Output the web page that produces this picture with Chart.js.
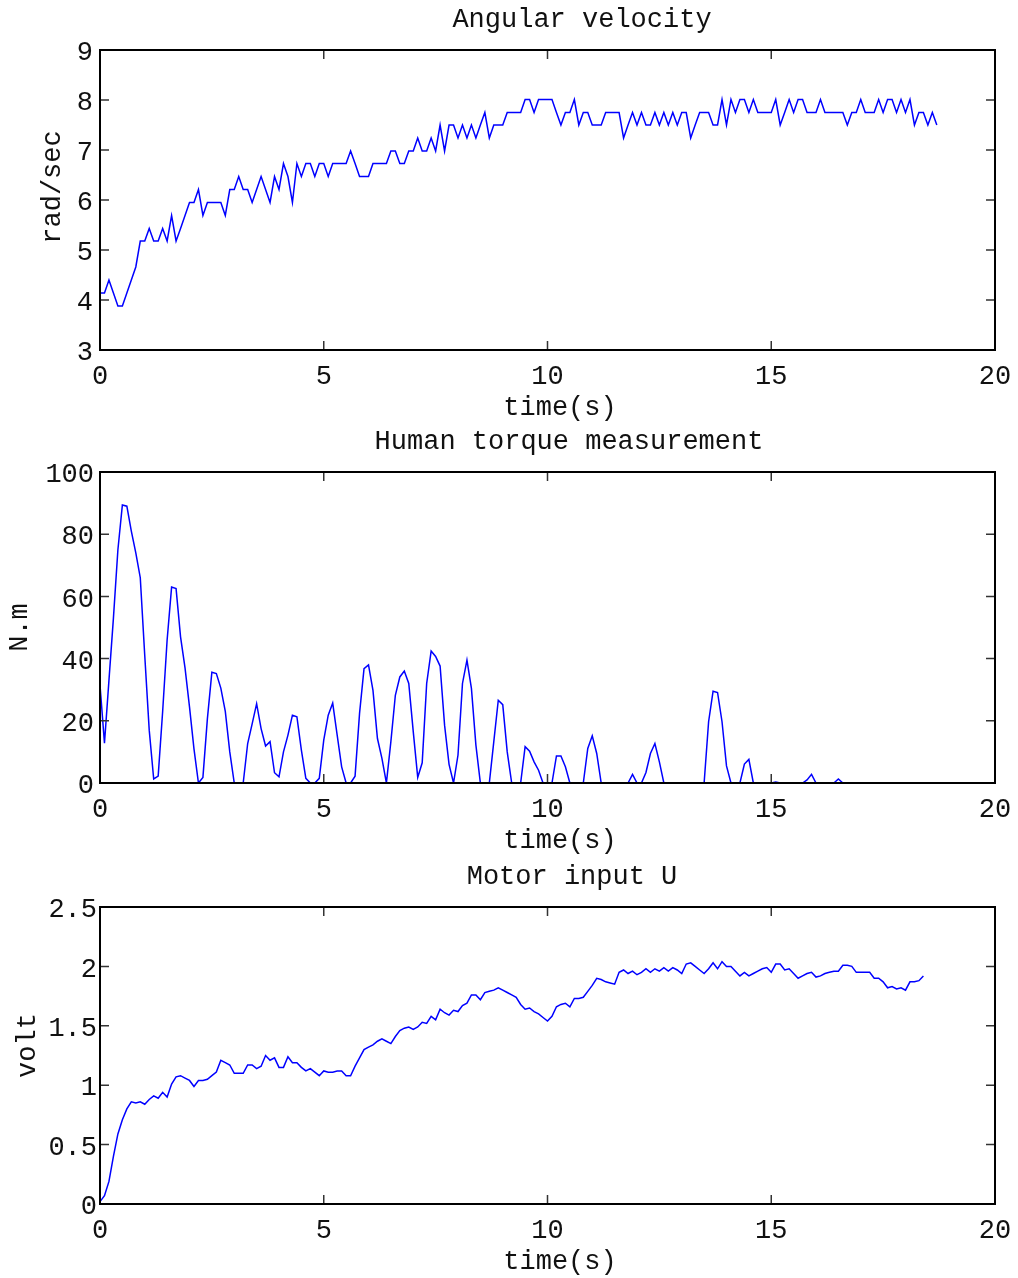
<!DOCTYPE html>
<html>
<head>
<meta charset="utf-8">
<script src="https://cdn.jsdelivr.net/npm/chart.js@4"></script>
<style>
  body { margin: 0; background: #fff; }
  canvas { position: absolute; left: 0; }
</style>
</head>
<body>
<canvas id="velChart" width="1018" height="426" style="top:0px"></canvas>
<canvas id="torqueChart" width="1018" height="432" style="top:426px"></canvas>
<canvas id="motorChart" width="1018" height="420" style="top:858px"></canvas>
<script>
// sampled every 0.1 s
const sampleStep = 0.1;

const angularVelocity = [
  4.14, 4.14, 4.40, 4.14, 3.88, 3.88, 4.14, 4.40, 4.66, 5.18,
  5.18, 5.43, 5.18, 5.18, 5.43, 5.18, 5.69, 5.18, 5.43, 5.69,
  5.95, 5.95, 6.21, 5.69, 5.95, 5.95, 5.95, 5.95, 5.69, 6.21,
  6.21, 6.47, 6.21, 6.21, 5.95, 6.21, 6.47, 6.21, 5.95, 6.47,
  6.21, 6.73, 6.47, 5.95, 6.73, 6.47, 6.73, 6.73, 6.47, 6.73,
  6.73, 6.47, 6.73, 6.73, 6.73, 6.73, 6.98, 6.73, 6.47, 6.47,
  6.47, 6.73, 6.73, 6.73, 6.73, 6.98, 6.98, 6.73, 6.73, 6.98,
  6.98, 7.24, 6.98, 6.98, 7.24, 6.98, 7.50, 6.98, 7.50, 7.50,
  7.24, 7.50, 7.24, 7.50, 7.24, 7.50, 7.75, 7.24, 7.50, 7.50,
  7.50, 7.75, 7.75, 7.75, 7.75, 8.01, 8.01, 7.75, 8.01, 8.01,
  8.01, 8.01, 7.75, 7.50, 7.75, 7.75, 8.01, 7.50, 7.75, 7.75,
  7.50, 7.50, 7.50, 7.75, 7.75, 7.75, 7.75, 7.24, 7.50, 7.75,
  7.50, 7.75, 7.50, 7.50, 7.75, 7.50, 7.75, 7.50, 7.75, 7.50,
  7.75, 7.75, 7.24, 7.50, 7.75, 7.75, 7.75, 7.50, 7.50, 8.01,
  7.50, 8.01, 7.75, 8.01, 8.01, 7.75, 8.01, 7.75, 7.75, 7.75,
  7.75, 8.01, 7.50, 7.75, 8.01, 7.75, 8.01, 8.01, 7.75, 7.75,
  7.75, 8.01, 7.75, 7.75, 7.75, 7.75, 7.75, 7.50, 7.75, 7.75,
  8.01, 7.75, 7.75, 7.75, 8.01, 7.75, 8.01, 8.01, 7.75, 8.01,
  7.75, 8.01, 7.50, 7.75, 7.75, 7.50, 7.75, 7.50
];

const humanTorque = [
  31.5, 12.8, 33, 53, 75, 89.4, 89, 81, 74, 66,
  41, 17, 1.3, 2.2, 23, 46, 63, 62.5, 47, 37,
  24.5, 11, 0, 1.8, 20.7, 35.6, 35.2, 30.5, 23, 10,
  0, 0, 0, 12.7, 19, 25.5, 17.5, 11.9, 13.3, 3.3,
  2, 10, 15.4, 21.8, 21.3, 10.6, 1.5, 0, 0, 1.5,
  13.8, 21.8, 25.7, 15.4, 5.2, 0, 0, 2.2, 22.4, 36.8,
  38, 29.8, 14.3, 7.9, 0, 13.3, 28.2, 34.1, 36, 32,
  16.5, 1.8, 6.5, 32, 42.4, 40.7, 37.6, 18.6, 6, 0,
  9, 32, 39.5, 30.4, 12.2, 0, 0, 0, 13.3, 26.6,
  25.2, 10, 0, 0, 0, 11.7, 10.2, 6.8, 4.1, 0,
  0, 0, 8.7, 8.7, 5.2, 0, 0, 0, 0, 11.1,
  15.2, 9.5, 0, 0, 0, 0, 0, 0, 0, 2.8,
  0, 0, 3.4, 9.5, 12.7, 6.8, 0, 0, 0, 0,
  0, 0, 0, 0, 0, 0, 19.7, 29.5, 29.1, 19.7,
  5.5, 0, 0, 0, 6.1, 7.6, 0, 0, 0, 0,
  0, 0.3, 0, 0, 0, 0, 0, 0, 1, 2.8,
  0, 0, 0, 0, 0, 1.3, 0, 0, 0, 0,
  0, 0, 0, 0, 0, 0, 0, 0, 0, 0,
  0, 0, 0, 0, 0
];

const motorInput = [
  0.02, 0.07, 0.19, 0.40, 0.59, 0.71, 0.80, 0.86, 0.85, 0.86,
  0.84, 0.88, 0.91, 0.89, 0.94, 0.90, 1.01, 1.07, 1.08, 1.06,
  1.04, 0.99, 1.04, 1.04, 1.05, 1.08, 1.11, 1.21, 1.19, 1.17,
  1.10, 1.10, 1.10, 1.17, 1.17, 1.14, 1.16, 1.25, 1.21, 1.23,
  1.15, 1.15, 1.24, 1.19, 1.19, 1.15, 1.12, 1.14, 1.11, 1.08,
  1.12, 1.11, 1.11, 1.12, 1.12, 1.08, 1.08, 1.16, 1.23, 1.30,
  1.32, 1.34, 1.37, 1.39, 1.37, 1.35, 1.41, 1.46, 1.48, 1.49,
  1.47, 1.49, 1.53, 1.52, 1.58, 1.55, 1.64, 1.61, 1.59, 1.63,
  1.62, 1.67, 1.69, 1.76, 1.76, 1.72, 1.78, 1.79, 1.80, 1.82,
  1.80, 1.78, 1.76, 1.74, 1.68, 1.64, 1.65, 1.62, 1.60, 1.57,
  1.54, 1.58, 1.66, 1.68, 1.69, 1.66, 1.73, 1.73, 1.74, 1.79,
  1.84, 1.90, 1.89, 1.87, 1.86, 1.85, 1.95, 1.97, 1.94, 1.96,
  1.93, 1.95, 1.98, 1.95, 1.98, 1.96, 1.99, 1.96, 1.99, 1.97,
  1.94, 2.02, 2.03, 2.00, 1.97, 1.94, 1.98, 2.03, 1.98, 2.04,
  2.00, 2.00, 1.96, 1.92, 1.95, 1.92, 1.94, 1.96, 1.98, 1.99,
  1.95, 2.02, 2.02, 1.97, 1.98, 1.94, 1.90, 1.92, 1.94, 1.95,
  1.91, 1.92, 1.94, 1.95, 1.96, 1.96, 2.01, 2.01, 2.00, 1.95,
  1.95, 1.95, 1.95, 1.90, 1.90, 1.87, 1.82, 1.83, 1.81, 1.82,
  1.80, 1.87, 1.87, 1.88, 1.92
];

const titles = ['Angular velocity', 'Human torque measurement', 'Motor input U'];
const yLabels = ['rad/sec', 'N.m', 'volt'];
const xLabel = 'time(s)';

const monoFont = "'Liberation Mono', 'Courier New', monospace";
const fontSize = 27;
Chart.defaults.font.family = monoFont;
Chart.defaults.font.size = fontSize;
Chart.defaults.color = '#111';

// MATLAB-like box with inward tick marks on all four sides
const boxPlugin = {
  id: 'box',
  afterDatasetsDraw(chart) {
    const { ctx, chartArea: a, scales: { x, y } } = chart;
    ctx.save();
    ctx.strokeStyle = '#333';
    ctx.lineWidth = 1.5;
    ctx.beginPath();
    x.ticks.forEach(t => {
      const px = x.getPixelForValue(t.value);
      ctx.moveTo(px, a.bottom); ctx.lineTo(px, a.bottom - 9);
      ctx.moveTo(px, a.top); ctx.lineTo(px, a.top + 9);
    });
    y.ticks.forEach(t => {
      const py = y.getPixelForValue(t.value);
      ctx.moveTo(a.left, py); ctx.lineTo(a.left + 9, py);
      ctx.moveTo(a.right, py); ctx.lineTo(a.right - 9, py);
    });
    ctx.stroke();
    ctx.strokeStyle = '#000';
    ctx.lineWidth = 2;
    ctx.strokeRect(a.left, a.top, a.right - a.left, a.bottom - a.top);
    ctx.restore();
  }
};

// title, x label and y label placed the way the MATLAB figure has them
const labelPlugin = {
  id: 'labels',
  afterDraw(chart, args, o) {
    const { ctx, chartArea: a } = chart;
    ctx.save();
    ctx.font = `${fontSize}px ${monoFont}`;
    ctx.fillStyle = '#111';
    ctx.textAlign = 'center';
    ctx.textBaseline = 'middle';
    ctx.fillText(o.title, o.titleX, a.top - 30);
    ctx.fillText(xLabel, 560, a.bottom + 58);
    ctx.translate(o.yLabelX, (a.top + a.bottom) / 2 - o.yLabelShift);
    ctx.rotate(-Math.PI / 2);
    ctx.fillText(o.yLabel, 0, 0);
    ctx.restore();
  }
};

function makeChart(id, cfg) {
  const times = cfg.values.map((_, i) => +(i * sampleStep).toFixed(1));
  return new Chart(document.getElementById(id), {
    type: 'line',
    data: {
      datasets: [{
        data: cfg.values.map((v, i) => ({ x: times[i], y: v })),
        borderColor: '#0000ff',
        borderWidth: 1.5,
        pointRadius: 0,
        tension: 0,
        fill: false
      }]
    },
    options: {
      responsive: false,
      animation: false,
      layout: { autoPadding: false, padding: { left: 0, right: 23, top: cfg.top, bottom: 0 } },
      plugins: {
        legend: { display: false },
        tooltip: { enabled: false },
        title: { display: false },
        labels: {
          title: cfg.title, titleX: cfg.titleX,
          yLabel: cfg.yLabel, yLabelX: cfg.yLabelX, yLabelShift: cfg.yLabelShift
        }
      },
      scales: {
        x: {
          type: 'linear',
          min: 0, max: 20,
          grid: { display: false },
          border: { display: false },
          ticks: { stepSize: 5, padding: 3, maxRotation: 0 },
          afterFit: s => { s.height = cfg.xHeight; }
        },
        y: {
          min: cfg.yMin, max: cfg.yMax,
          grid: { display: false, drawTicks: false },
          border: { display: false },
          ticks: { stepSize: cfg.yStep, padding: cfg.yPad, labelOffset: 3, callback: v => String(v) },
          afterFit: s => { s.width = 100; }
        }
      }
    },
    plugins: [boxPlugin, labelPlugin]
  });
}

makeChart('velChart', {
  values: angularVelocity, title: titles[0], yLabel: yLabels[0],
  yMin: 3, yMax: 9, yStep: 1, yPad: 7,
  top: 50, xHeight: 76, titleX: 582, yLabelX: 53, yLabelShift: 13
});
makeChart('torqueChart', {
  values: humanTorque, title: titles[1], yLabel: yLabels[1],
  yMin: 0, yMax: 100, yStep: 20, yPad: 6,
  top: 46, xHeight: 75, titleX: 569, yLabelX: 20, yLabelShift: 0
});
makeChart('motorChart', {
  values: motorInput, title: titles[2], yLabel: yLabels[2],
  yMin: 0, yMax: 2.5, yStep: 0.5, yPad: 3,
  top: 49, xHeight: 74, titleX: 572, yLabelX: 28, yLabelShift: 10
});
</script>
</body>
</html>
